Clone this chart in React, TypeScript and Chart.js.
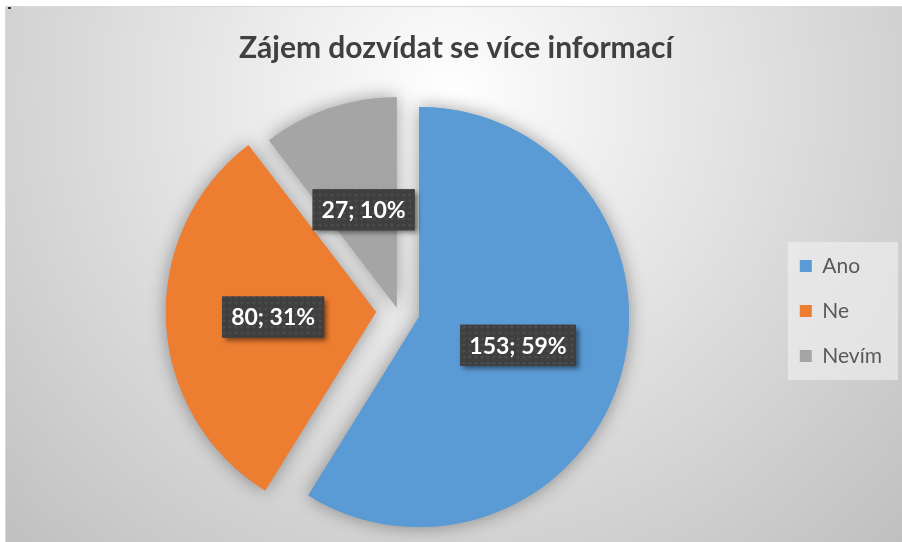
import React, { useEffect, useRef } from 'react';
import { Chart, registerables } from 'chart.js';

Chart.register(...registerables);

const categories = ['Ano', 'Ne', 'Nevím'];
const counts = [153, 80, 27];
const sliceColors = ['#5B9BD5', '#ED7D31', '#A5A5A5'];
const explodePx = [22, 22, 4];
const titleText = 'Zájem dozvídat se více informací';

const W = 897;
const H = 536;

export default function App() {
  const ref = useRef<HTMLCanvasElement>(null);

  useEffect(() => {
    const canvas = ref.current;
    if (!canvas) return;
    const total = counts.reduce((a, b) => a + b, 0);
    const labelTexts = counts.map((v) => `${v}; ${Math.round((v / total) * 100)}%`);

    const pc = document.createElement('canvas');
    pc.width = 6;
    pc.height = 6;
    const pctx = pc.getContext('2d')!;
    pctx.fillStyle = '#3f3f3f';
    pctx.fillRect(0, 0, 6, 6);
    pctx.fillStyle = 'rgba(255,255,255,0.07)';
    pctx.beginPath();
    pctx.arc(3, 3, 1.6, 0, Math.PI * 2);
    pctx.fill();

    const shift = (arc: any, i: number) => {
      const mid = (arc.startAngle + arc.endAngle) / 2;
      return [Math.cos(mid) * explodePx[i], Math.sin(mid) * explodePx[i]];
    };

    const excelPlugin = {
      id: 'excelStyle',
      beforeDraw(chart: any) {
        const { ctx, width, height } = chart;
        ctx.save();
        const g = ctx.createRadialGradient(445, 90, 0, 445, 90, 640);
        g.addColorStop(0, '#ffffff');
        g.addColorStop(0.1, '#f8f8f8');
        g.addColorStop(1, '#bfbfbf');
        ctx.fillStyle = g;
        ctx.fillRect(0, 0, width, height);
        ctx.strokeStyle = '#d9d9d9';
        ctx.lineWidth = 1;
        ctx.beginPath();
        ctx.moveTo(0.5, height);
        ctx.lineTo(0.5, 0.5);
        ctx.lineTo(width, 0.5);
        ctx.stroke();
        ctx.fillStyle = '#333';
        ctx.fillRect(3, 1, 3, 2);
        const lg = chart.legend;
        if (lg && lg.legendHitBoxes && lg.legendHitBoxes.length) {
          const hb = lg.legendHitBoxes;
          const x0 = Math.min(...hb.map((h: any) => h.left)) - 12;
          const y0 = hb[0].top - 13.5;
          const last = hb[hb.length - 1];
          const y1 = last.top + last.height + 13.5;
          ctx.fillStyle = 'rgba(242,242,242,0.6)';
          ctx.fillRect(x0, y0, width - 4 - x0, y1 - y0);
        }
        ctx.restore();
      },
      beforeDatasetDraw(chart: any, args: any) {
        const { ctx } = chart;
        const arcs = args.meta.data;
        ctx.save();
        ctx.shadowColor = 'rgba(0,0,0,0.38)';
        ctx.shadowBlur = 18;
        arcs.forEach((arc: any, i: number) => {
          const [dx, dy] = shift(arc, i);
          ctx.save();
          ctx.translate(dx, dy);
          arc.draw(ctx);
          ctx.restore();
        });
        ctx.restore();
        arcs.forEach((arc: any, i: number) => {
          const [dx, dy] = shift(arc, i);
          ctx.save();
          ctx.translate(dx, dy);
          arc.draw(ctx);
          ctx.restore();
        });
        return false;
      },
      afterDatasetsDraw(chart: any) {
        const { ctx } = chart;
        const meta = chart.getDatasetMeta(0);
        const pattern = ctx.createPattern(pc, 'repeat');
        ctx.save();
        ctx.font = 'bold 23px Lato';
        meta.data.forEach((arc: any, i: number) => {
          const [dx, dy] = shift(arc, i);
          const mid = (arc.startAngle + arc.endAngle) / 2;
          const rr = arc.outerRadius * 0.49;
          const cx = arc.x + dx + Math.cos(mid) * rr;
          const cy = arc.y + dy + Math.sin(mid) * rr;
          const text = labelTexts[i];
          const tw = ctx.measureText(text).width;
          const bw = tw + 18;
          const bh = 41;
          const bx = cx - bw / 2;
          const by = cy - bh / 2;
          ctx.save();
          ctx.shadowColor = 'rgba(0,0,0,0.5)';
          ctx.shadowBlur = 5;
          ctx.shadowOffsetX = 3;
          ctx.shadowOffsetY = 3;
          ctx.fillStyle = '#3f3f3f';
          ctx.fillRect(bx, by, bw, bh);
          ctx.restore();
          if (pattern) {
            ctx.fillStyle = pattern;
            ctx.fillRect(bx, by, bw, bh);
          }
          ctx.fillStyle = '#ffffff';
          ctx.textAlign = 'center';
          ctx.textBaseline = 'middle';
          ctx.fillText(text, cx, cy + 1);
        });
        ctx.restore();
      },
    };

    const chart = new Chart(canvas, {
      type: 'pie',
      data: {
        labels: categories,
        datasets: [
          {
            data: counts,
            backgroundColor: sliceColors,
            borderWidth: 0,
            radius: 210,
          } as any,
        ],
      },
      options: {
        responsive: false,
        animation: false,
        layout: { padding: { left: 15, right: 10, top: 0, bottom: 0 } },
        plugins: {
          title: {
            display: true,
            text: titleText,
            color: '#404040',
            font: { family: 'Lato', size: 30, weight: 'bold' },
            padding: { top: 24, bottom: 14 },
          },
          legend: {
            position: 'right',
            fullSize: false,
            labels: {
              boxWidth: 12,
              boxHeight: 12,
              padding: 24,
              color: '#595959',
              font: { family: 'Lato', size: 21 },
            },
          },
          tooltip: { enabled: false },
        },
      } as any,
      plugins: [excelPlugin as any],
    });

    return () => chart.destroy();
  }, []);

  return (
    <div style={{ position: 'absolute', left: 5, top: 6, width: W, height: H }}>
      <canvas ref={ref} width={W} height={H} style={{ width: W, height: H, display: 'block' }} />
    </div>
  );
}
